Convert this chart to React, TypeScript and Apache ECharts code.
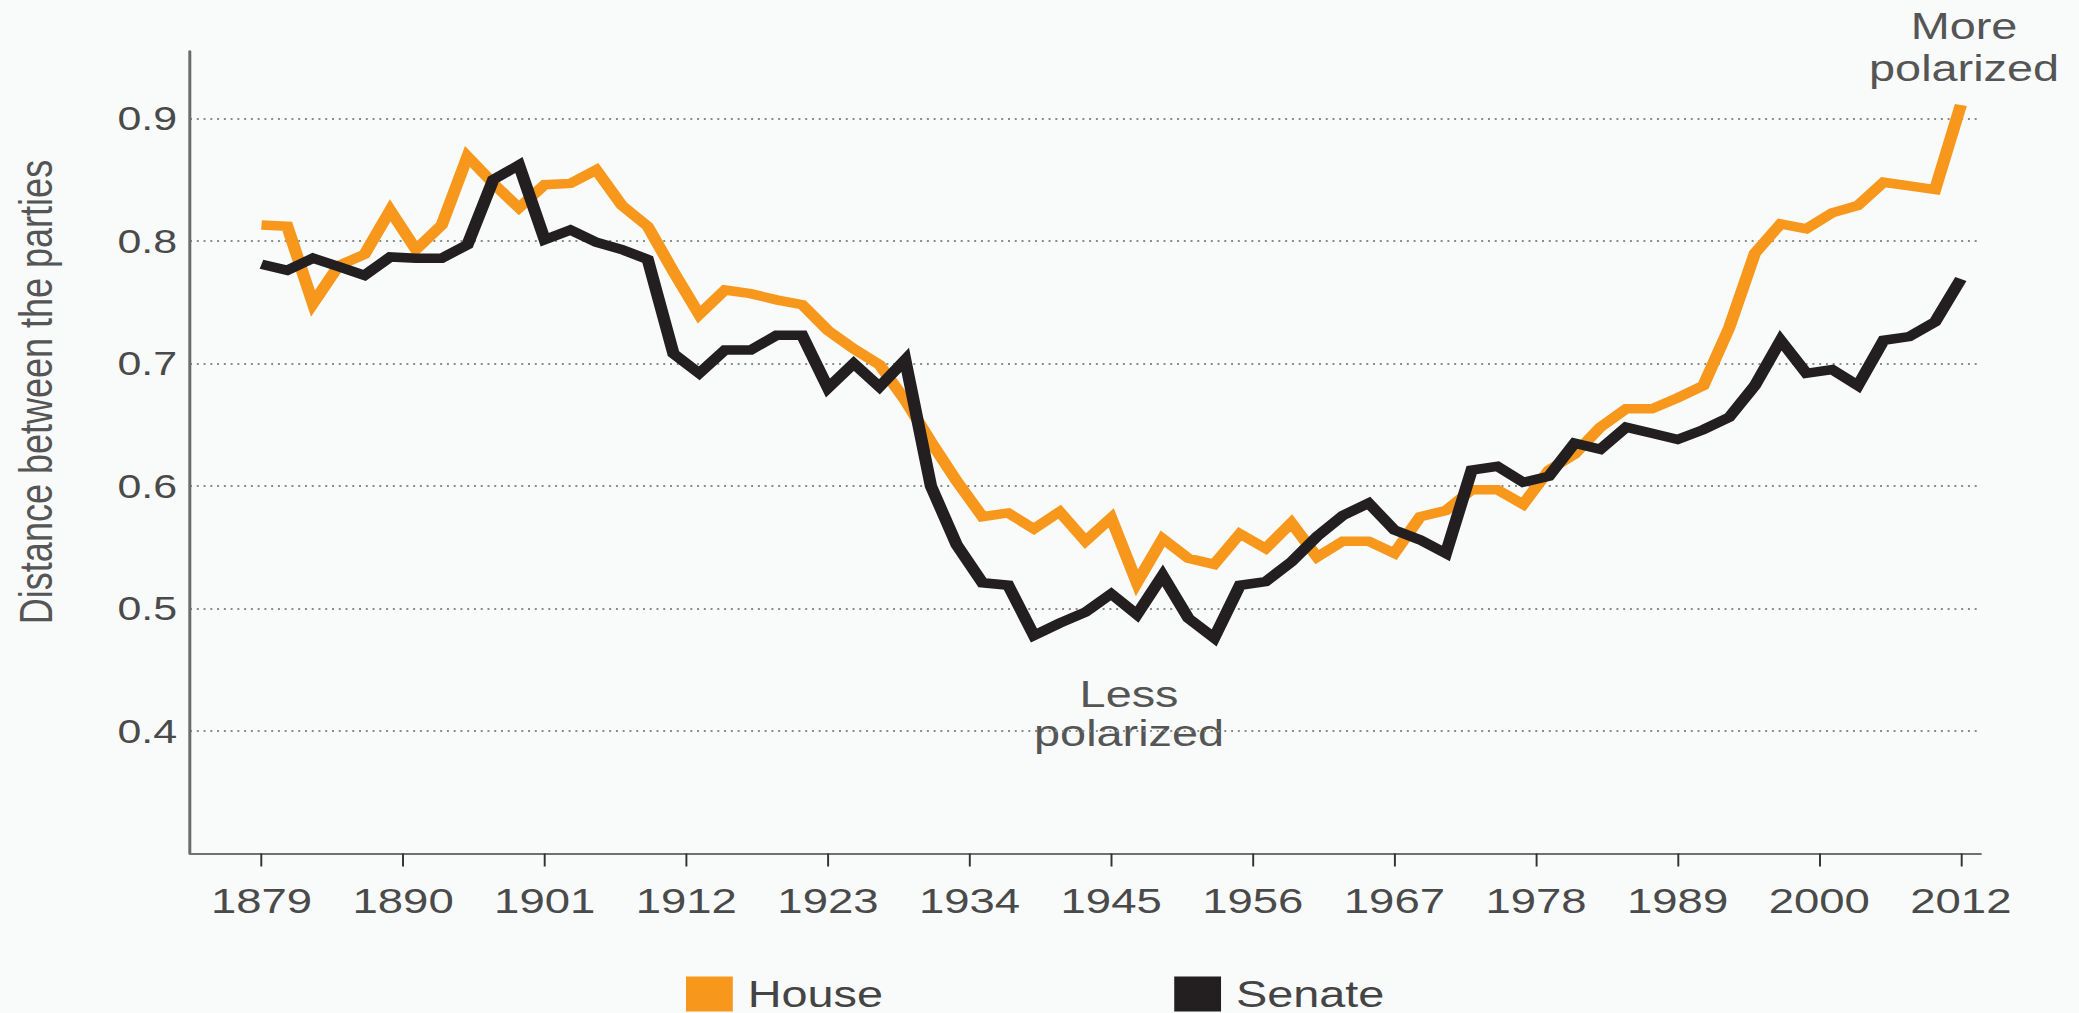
import React, { useEffect, useRef } from "react";
import * as echarts from "echarts";

// ---- data ----
const xTickLabels = ["1879", "1890", "1901", "1912", "1923", "1934", "1945", "1956", "1967", "1978", "1989", "2000", "2012"];
const seriesNames = ["House", "Senate"];
const seriesColors = ["#f7981d", "#231f20"];

const houseValues = [
  0.813, 0.812, 0.749, 0.780, 0.789, 0.825, 0.793, 0.813, 0.869, 0.847,
  0.827, 0.846, 0.847, 0.858, 0.829, 0.812, 0.775, 0.740, 0.760, 0.757,
  0.752, 0.748, 0.727, 0.712, 0.699, 0.670, 0.636, 0.604, 0.575, 0.578,
  0.565, 0.579, 0.555, 0.574, 0.521, 0.557, 0.541, 0.536, 0.561, 0.549,
  0.570, 0.542, 0.555, 0.555, 0.545, 0.575, 0.580, 0.597, 0.597, 0.585,
  0.613, 0.626, 0.648, 0.663, 0.663, 0.672, 0.682, 0.729, 0.790, 0.814,
  0.810, 0.823, 0.829, 0.848, 0.845, 0.842, 0.911,
];

const senateValues = [
  0.781, 0.776, 0.786, 0.779, 0.772, 0.787, 0.786, 0.786, 0.797, 0.850,
  0.862, 0.801, 0.809, 0.799, 0.793, 0.785, 0.708, 0.692, 0.711, 0.711,
  0.723, 0.723, 0.680, 0.700, 0.681, 0.703, 0.600, 0.552, 0.521, 0.519,
  0.478, 0.488, 0.497, 0.512, 0.495, 0.527, 0.492, 0.476, 0.519, 0.522,
  0.538, 0.559, 0.576, 0.586, 0.564, 0.556, 0.545, 0.613, 0.616, 0.603,
  0.608, 0.635, 0.630, 0.648, 0.643, 0.638, 0.646, 0.656, 0.682, 0.719,
  0.692, 0.695, 0.682, 0.719, 0.722, 0.734, 0.769,
];

const yAxisTitle = "Distance between the parties";
const lessLabel = "Less\npolarized";
const moreLabel = "More\npolarized";

// ---- layout ----
const PAGE_W = 2079;
const PAGE_H = 1013;
const STRETCH = 1.3;
const CHART_W = PAGE_W / STRETCH;
const FONT = "'Liberation Sans', Arial, sans-serif";

export default function App() {
  const ref = useRef<HTMLDivElement>(null);

  useEffect(() => {
    if (!ref.current) return;
    const chart = echarts.init(ref.current, undefined, { renderer: "svg" });
    const lastIndex = houseValues.length - 1;
    const step = lastIndex / (xTickLabels.length - 1);
    const tickPositions = xTickLabels.map((_, k) => k * step);

    chart.setOption({
      animation: false,
      backgroundColor: "#f9fafa",
      grid: { left: 146.2, right: 75.4, top: 51.5, bottom: 159.5, containLabel: false },
      xAxis: {
        type: "value",
        min: -2.774,
        max: 66.77,
        axisLine: { show: true, onZero: false, lineStyle: { color: "#707070", width: 2 } },
        axisTick: {
          show: true,
          customValues: tickPositions,
          length: 13,
          lineStyle: { color: "#333333", width: 1.5 },
        },
        axisLabel: {
          customValues: tickPositions,
          formatter: (v: number) => xTickLabels[Math.round(v / step)] ?? "",
          margin: 30,
          fontSize: 35,
          color: "#4a4a4a",
          fontFamily: FONT,
        },
        splitLine: { show: false },
      },
      yAxis: {
        type: "value",
        min: 0.3,
        max: 0.9547,
        interval: 0.1,
        axisLine: { show: true, onZero: false, lineStyle: { color: "#6b6b6b", width: 2.3 } },
        axisTick: { show: false },
        axisLabel: {
          showMinLabel: false,
          showMaxLabel: false,
          formatter: (v: number) => v.toFixed(1),
          margin: 10,
          fontSize: 33,
          color: "#4a4a4a",
          fontFamily: FONT,
        },
        splitLine: {
          show: true,
          showMinLine: false,
          showMaxLine: false,
          lineStyle: { color: "#8a8a8a", width: 2, type: [1.5, 3.7] },
        },
      },
      legend: {
        data: seriesNames,
        left: 527.7,
        top: 976,
        padding: 0,
        itemWidth: 36,
        itemHeight: 35,
        itemGap: 224,
        icon: "rect",
        selectedMode: false,
        itemStyle: { borderWidth: 0 },
        textStyle: { fontSize: 36, color: "#444444", fontFamily: FONT, padding: [0, 0, 0, 6.5] },
      },
      graphic: [
        {
          type: "text",
          x: 27.3,
          y: 392,
          rotation: Math.PI / 2,
          style: {
            text: yAxisTitle,
            fontSize: 36,
            fontFamily: FONT,
            fill: "#555555",
            align: "center",
            verticalAlign: "middle",
          },
        },
        {
          type: "text",
          x: 868.5,
          y: 674.7,
          style: {
            text: lessLabel,
            fontSize: 36,
            lineHeight: 39,
            fontFamily: FONT,
            fill: "#555555",
            align: "center",
            verticalAlign: "top",
          },
        },
        {
          type: "text",
          x: 1510.8,
          y: 5.3,
          style: {
            text: moreLabel,
            fontSize: 36,
            lineHeight: 42,
            fontFamily: FONT,
            fill: "#555555",
            align: "center",
            verticalAlign: "top",
          },
        },
      ],
      series: [
        {
          name: seriesNames[0],
          type: "line",
          data: houseValues.map((v, i) => [i, v]),
          showSymbol: false,
          symbol: "none",
          clip: false,
          z: 2,
          itemStyle: { color: seriesColors[0] },
          lineStyle: { color: seriesColors[0], width: 9.5, join: "miter", cap: "butt" },
        },
        {
          name: seriesNames[1],
          type: "line",
          data: senateValues.map((v, i) => [i, v]),
          showSymbol: false,
          symbol: "none",
          clip: false,
          z: 3,
          itemStyle: { color: seriesColors[1] },
          lineStyle: { color: seriesColors[1], width: 9.5, join: "miter", cap: "butt" },
        },
      ],
    });

    return () => chart.dispose();
  }, []);

  return (
    <div
      style={{
        position: "fixed",
        left: 0,
        top: 0,
        width: PAGE_W,
        height: PAGE_H,
        overflow: "hidden",
        background: "#f9fafa",
      }}
    >
      <div
        ref={ref}
        style={{
          width: CHART_W,
          height: PAGE_H,
          transform: `scaleX(${STRETCH})`,
          transformOrigin: "0 0",
        }}
      />
    </div>
  );
}
